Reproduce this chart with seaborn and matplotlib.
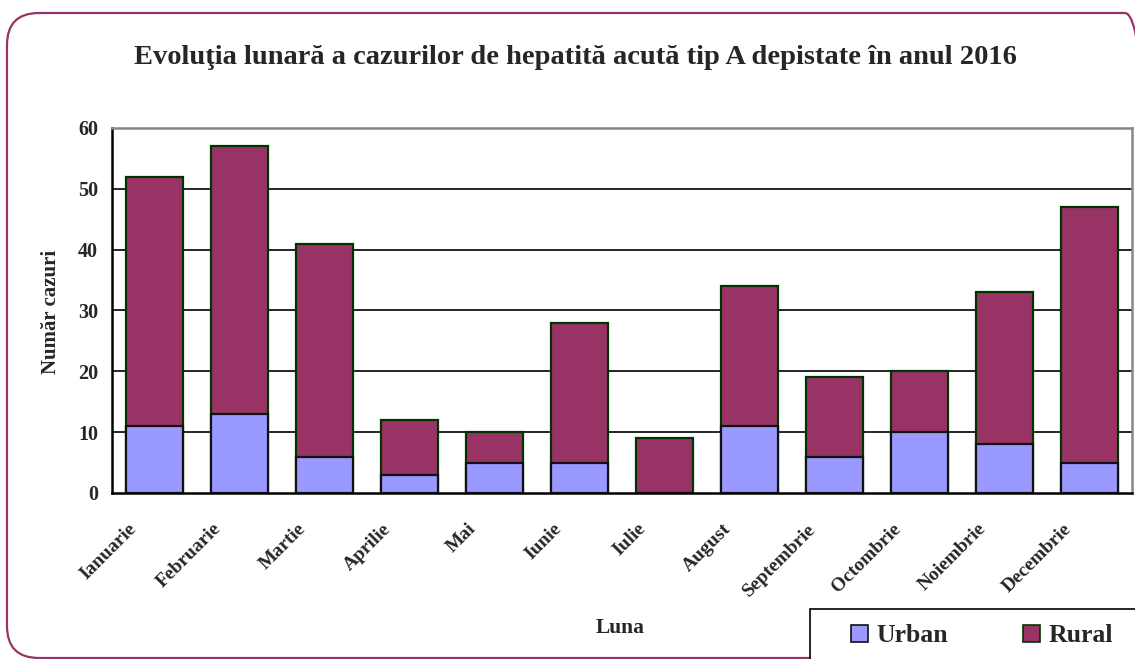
import matplotlib
matplotlib.use("Agg")
import matplotlib.pyplot as plt
import matplotlib.transforms as mtransforms
from matplotlib.patches import FancyBboxPatch, Rectangle, Patch
import seaborn as sns
import pandas as pd

months = ["Ianuarie", "Februarie", "Martie", "Aprilie", "Mai", "Iunie",
          "Iulie", "August", "Septembrie", "Octombrie", "Noiembrie", "Decembrie"]
urban = [11, 13, 6, 3, 5, 5, 0, 11, 6, 10, 8, 5]
rural = [41, 44, 35, 9, 5, 23, 9, 23, 13, 10, 25, 42]
y_ticks = [0, 10, 20, 30, 40, 50, 60]

title = "Evoluţia lunară a cazurilor de hepatită acută tip A depistate în anul 2016"
xlabel = "Luna"
ylabel = "Număr cazuri"

URBAN_C = "#9999FF"
RURAL_C = "#993366"

df = pd.DataFrame({"Luna": months, "Urban": urban, "Rural": rural})
df["Total"] = df["Urban"] + df["Rural"]

sns.set_theme(style="white")
plt.rcParams["font.family"] = ["Liberation Serif", "DejaVu Serif"]
plt.rcParams["font.weight"] = "bold"

W, H = 1135, 659
fig = plt.figure(figsize=(W / 100, H / 100), dpi=100)
fig.patch.set_facecolor("white")

x0, x1, y0, y1 = 112, 1132, 128, 493
ax = fig.add_axes([x0 / W, 1 - y1 / H, (x1 - x0) / W, (y1 - y0) / H])
ax.set_facecolor("white")

sns.barplot(data=df, x="Luna", y="Total", color=RURAL_C, saturation=1,
            edgecolor="#003300", linewidth=1.6, width=0.67, ax=ax, zorder=3)
sns.barplot(data=df, x="Luna", y="Urban", color=URBAN_C, saturation=1,
            edgecolor="#111111", linewidth=1.6, width=0.67, ax=ax, zorder=4)

ax.set_ylim(0, 60)
ax.set_xlim(-0.5, len(months) - 0.5)
ax.set_yticks(y_ticks)
ax.set_yticklabels([str(v) for v in y_ticks], fontsize=14.5, fontweight="bold")
for v in y_ticks[1:]:
    ax.axhline(v, color="black", linewidth=1.2, zorder=1)

ax.set_xticks(range(len(months)))
ax.set_xticklabels(months, rotation=45, ha="right", va="center",
                   rotation_mode="anchor", fontsize=14, fontweight="bold")
ax.set_xticks([i - 0.5 for i in range(len(months) + 1)], minor=True)
ax.tick_params(axis="x", which="major", length=0, pad=24)
ax.tick_params(axis="x", which="minor", length=5, width=1.5, color="black", direction="out")
ax.tick_params(axis="y", length=7, width=1.5, color="black", direction="out", pad=3)
offset = mtransforms.ScaledTranslation(-21 / 100, 0, fig.dpi_scale_trans)
for lab in ax.get_xticklabels():
    lab.set_transform(lab.get_transform() + offset)

ax.set_xlabel("")
ax.set_ylabel("")
for side in ["left", "bottom"]:
    ax.spines[side].set_color("black")
    ax.spines[side].set_linewidth(1.8)
for side in ["top", "right"]:
    ax.spines[side].set_color("#888888")
    ax.spines[side].set_linewidth(1.8)
    ax.spines[side].set_visible(True)

fig.text(575 / W, 1 - 57 / H, title, ha="center", va="center",
         fontsize=20.5, fontweight="bold")
fig.text(51 / W, 1 - 312 / H, ylabel, ha="center", va="center",
         rotation=90, fontsize=15, fontweight="bold")
fig.text(620 / W, 1 - 628 / H, xlabel, ha="center", va="center",
         fontsize=15.5, fontweight="bold")

# rounded outer frame (display pixels)
frame = FancyBboxPatch((7, 1), 1150, 645, boxstyle="round,pad=0,rounding_size=32",
                       transform=mtransforms.IdentityTransform(), facecolor="none",
                       edgecolor=RURAL_C, linewidth=1.6, zorder=0)
fig.patches.append(frame)

# legend box (partly outside the figure)
lbox = Rectangle((810, -20), 400, 70, transform=mtransforms.IdentityTransform(),
                 facecolor="white", edgecolor="black", linewidth=1.2, zorder=5)
fig.patches.append(lbox)
handles = [Patch(facecolor=URBAN_C, edgecolor="#111111", linewidth=1.2, label="Urban"),
           Patch(facecolor=RURAL_C, edgecolor="#003300", linewidth=1.2, label="Rural")]
leg = fig.legend(handles=handles, loc="center left", bbox_to_anchor=(828 / W, 1 - 636 / H),
                 ncol=2, frameon=False, handlelength=0.65, handleheight=0.65,
                 handletextpad=0.35, columnspacing=2.9,
                 prop={"family": "Liberation Serif", "weight": "bold", "size": 18.5})
leg.set_zorder(6)

fig.savefig("out.png", dpi=100)
